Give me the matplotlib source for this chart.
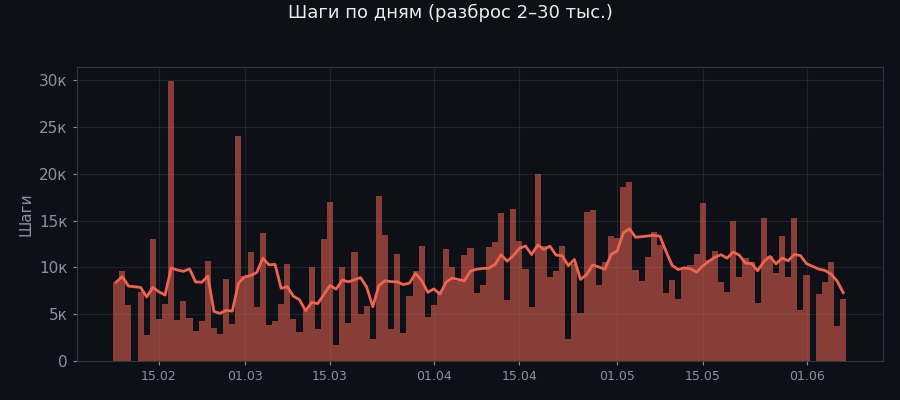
import numpy as np
import pandas as pd
import matplotlib
matplotlib.use("Agg")
import matplotlib.pyplot as plt
import matplotlib.dates as mdates
from matplotlib.ticker import FuncFormatter

# daily steps, 08.02 -> 07.06 (nan = no data that day)
start_date = "2025-02-08"
steps = [
    8430, 9600, 5980, np.nan, 7400, 2770, 13000, 4500, 6080, 29900,
    4380, 6400, 4600, 3200, 4300, 10670, 3500, 2900, 8750, 3950,
    24000, 9100, 11600, 5760, 13660, 3840, 4270, 6080, 10350, 4480,
    3100, 5500, 10000, 3400, 13000, 17000, 1700, 10000, 4050, 11600,
    5000, 5870, 2380, 17600, 13450, 3450, 11400, 3000, 6940, 9600,
    12270, 4700, 5980, 7500, 11950, 10000, 8500, 11300, 12060, 7260,
    8100, 12170, 12700, 15800, 6500, 16200, 12800, 9800, 5760, 19960,
    12300, 8960, 9600, 12270, 2380, 10400, 5100, 15900, 16100, 8100,
    10600, 13300, 13100, 18600, 19100, 9700, 8540, 11100, 13800, 12400,
    7260, 8640, 6600, 9900, 10300, 11400, 16900, 10800, 11700, 8430,
    7360, 14900, 8960, 11000, 10600, 6200, 15260, 11200, 9400, 13300,
    8960, 15260, 5440, 9180, np.nan, 7150, 8430, 10600, 3740, 6600,
]
window = 7

BG = "#0d1117"
RED = "#ee6450"
GRAY = "#8b949e"

dates = pd.date_range(start_date, periods=len(steps), freq="D")
s = pd.Series(steps, index=dates).dropna()
trend = s.rolling(window, min_periods=1).mean()

fig, ax = plt.subplots(figsize=(9, 4), dpi=100)
fig.patch.set_facecolor(BG)
ax.set_facecolor(BG)

ax.bar(s.index, s.values, width=1.0, color=RED, alpha=0.55, linewidth=0, zorder=2)
ax.plot(trend.index, trend.values, color=RED, lw=2, zorder=3)

ax.grid(True, color="#30363d", alpha=0.5, lw=0.8, zorder=0)
ax.set_axisbelow(True)

ax.xaxis.set_major_locator(mdates.DayLocator(bymonthday=[1, 15]))
ax.xaxis.set_major_formatter(mdates.DateFormatter("%d.%m"))
ax.yaxis.set_major_formatter(FuncFormatter(lambda v, p: f"{int(v / 1000)}к" if v else "0"))

ax.tick_params(axis="x", colors=GRAY, labelsize=9, length=3)
ax.tick_params(axis="y", colors=GRAY, labelsize=11, length=3)
for sp in ax.spines.values():
    sp.set_color("#30363d")

ax.set_ylabel("Шаги", color=GRAY, fontsize=11)
fig.suptitle("Шаги по дням (разброс 2–30 тыс.)", color="#e6edf3", fontsize=13, y=0.99)

fig.subplots_adjust(left=0.085, right=0.981, bottom=0.0975, top=0.8325)
fig.savefig("out.png", facecolor=BG)
